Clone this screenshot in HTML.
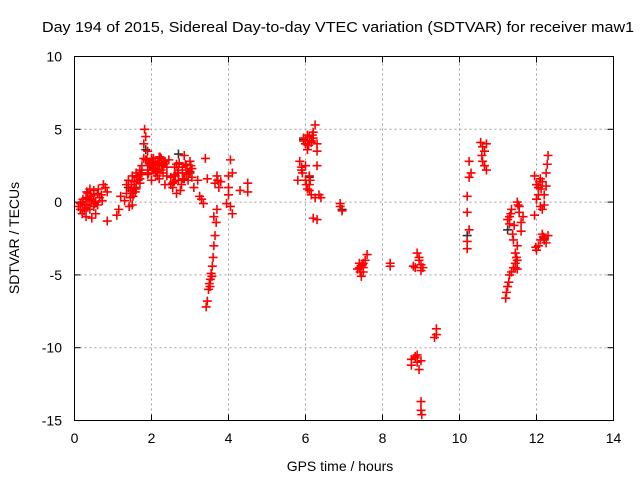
<!DOCTYPE html>
<html><head><meta charset="utf-8"><style>
body{margin:0;background:#fff;}
svg{display:block;font-family:"Liberation Sans",sans-serif;}
</style></head><body>
<svg id="chart" width="640" height="480" xmlns="http://www.w3.org/2000/svg">
<text x="338" y="32" font-size="15" text-anchor="middle" textLength="592" lengthAdjust="spacingAndGlyphs">Day 194 of 2015, Sidereal Day-to-day VTEC variation (SDTVAR) for receiver maw1</text>
<text x="340" y="471" font-size="14" text-anchor="middle">GPS time / hours</text>
<text transform="translate(19,238) rotate(-90)" font-size="14" text-anchor="middle">SDTVAR / TECUs</text>
<g id="grid"></g><g id="ticks"></g><g id="marks"></g>
<rect x="74.5" y="56.5" width="539" height="364" fill="none" stroke="#000" stroke-width="1"/>
</svg>
<script>
const xTicks=[0,2,4,6,8,10,12,14];
const yTicks=[10,5,0,-5,-10,-15];
const redX=[0.1,0.15,0.2,0.25,0.3,0.3,0.35,0.4,0.4,0.45,0.5,0.5,0.55,0.6,0.65,0.7,0.75,0.8,0.85,0.85,0.2,0.35,0.45,0.6,0.25,0.4,0.55,0.3,0.15,0.5,
1.1,1.15,1.2,1.3,1.35,1.4,1.45,1.5,1.5,1.55,1.6,1.65,1.7,1.75,1.8,1.8,1.82,1.85,1.9,1.95,2.0,2.05,2.1,2.15,2.2,2.25,2.3,2.35,2.4,2.5,2.55,2.6,2.7,2.75,2.8,2.85,2.9,2.95,3.0,3.05,3.1,3.2,3.25,3.3,3.35,3.4,3.45,
1.4,1.45,1.55,1.6,1.65,1.7,1.75,1.85,1.9,1.95,2.0,2.05,2.1,2.15,2.2,2.25,2.3,2.4,2.45,2.5,2.6,2.65,2.7,2.8,2.9,3.0,2.0,2.1,2.2,1.9,1.5,1.6,1.7,2.35,2.55,2.65,2.85,2.95,3.05,1.35,1.42,1.52,
1.98,2.08,2.18,2.28,1.88,2.12,2.22,2.02,1.92,2.32,2.62,2.72,2.82,2.92,3.02,2.58,2.68,2.78,2.88,1.62,1.72,1.48,1.58,0.42,0.52,0.32,0.22,0.62,0.72,
3.7,3.68,3.65,3.62,3.6,3.58,3.55,3.53,3.5,3.48,3.45,3.42,3.65,3.7,3.75,3.8,3.62,3.72,3.57,3.52,
4.0,4.05,4.0,4.05,4.1,4.1,4.0,3.95,4.3,4.5,4.5,
5.8,5.85,5.9,5.95,6.0,6.05,6.1,6.15,6.2,6.25,6.3,6.3,6.3,6.0,6.05,6.1,6.15,6.2,6.25,6.35,6.4,6.3,6.0,6.1,5.95,6.05,6.15,6.2,5.9,6.1,6.08,6.18,6.02,5.92,6.12,
6.9,6.95,6.9,
7.4,7.45,7.5,7.5,7.55,7.6,7.45,7.35,7.4,7.5,7.42,7.48,
8.2,8.2,8.85,8.9,8.95,9.0,9.05,8.95,9.0,8.8,
9.4,9.4,9.35,8.75,8.75,8.85,8.9,8.9,8.95,9.0,8.85,9.0,9.0,9.02,
10.25,10.25,10.2,10.2,10.25,10.2,10.2,10.3,10.55,10.6,10.65,10.7,10.65,10.6,10.7,10.58,
11.2,11.22,11.25,11.28,11.3,11.35,11.4,11.45,11.5,11.5,11.45,11.4,11.3,11.35,11.5,11.55,11.6,11.65,11.5,11.45,11.25,11.3,11.55,11.6,11.38,11.42,11.48,11.52,11.33,
12.0,12.05,12.1,12.15,12.2,12.25,12.3,11.95,12.0,12.05,12.1,12.15,12.2,12.25,12.3,12.0,11.95,12.05,12.1,12.2,12.25,12.28,12.15,11.98,12.08,12.12,12.18];
const redY=[-0.3,-0.5,-0.8,-0.2,0.3,-1.0,0.6,0.9,-0.5,0.2,-0.3,0.5,-0.8,-0.2,0.3,0.5,1.2,1.0,0.7,-1.3,0,-0.2,-1.1,0.6,-0.6,0.1,0.0,-0.4,-0.1,0.8,
-0.9,-0.5,0.4,0.1,1.2,1.5,0.8,1.8,-0.2,1.0,2.0,1.5,2.2,2.5,3.0,4.0,5.0,4.5,3.5,2.5,3.0,2.2,2.8,1.8,2.5,3.0,2.0,1.2,2.4,1.7,1.0,2.4,1.5,0.8,2.0,3.2,2.5,1.5,2.8,1.7,1.0,1.5,0.4,0.2,-0.1,3.0,1.6,
1.2,0.3,1.4,1.0,1.8,1.3,2.0,2.9,2.2,2.7,2.4,3.0,2.0,2.6,1.6,2.2,2.7,1.8,2.9,1.2,1.9,2.6,2.2,2.4,1.9,2.1,1.5,2.3,3.1,1.9,0.6,0.9,1.6,2.8,1.3,0.6,1.6,2.0,2.3,0.6,-0.3,0.4,
2.6,2.3,2.7,2.5,2.9,2.1,3.1,2.8,2.0,2.6,1.8,2.7,1.6,2.2,2.5,1.4,2.0,1.2,2.6,1.7,1.9,1.2,0.7,0.4,-0.1,0.7,0.2,0.9,0.1,
-0.5,-1.4,-2.3,-3.0,-3.8,-4.4,-4.9,-5.3,-5.6,-6.0,-6.8,-7.2,1.3,1.8,1.0,1.4,-1.0,1.5,-5.1,-5.8,
1.8,2.9,0.5,-0.3,-0.8,2.0,1.0,-0.1,0.8,1.3,0.7,
1.5,2.8,2.2,4.4,4.0,3.6,4.5,4.2,4.8,5.3,4.0,3.5,2.5,1.5,0.9,1.2,0.5,-1.1,0.3,0.5,0.3,-1.2,2.5,1.8,4.2,4.6,4.1,4.4,2.4,0.8,3.9,4.6,1.2,2.0,1.5,
-0.3,-0.6,-0.1,
-4.5,-5.1,-4.8,-4.2,-4.0,-3.6,-4.4,-4.6,-4.2,-4.5,-4.8,-4.3,
-4.2,-4.4,-4.5,-3.5,-4.0,-4.3,-4.5,-3.8,-4.7,-4.4,
-9.1,-8.7,-9.3,-10.8,-11.2,-10.7,-10.5,-11.0,-11.5,-10.9,-10.6,-13.7,-14.3,-14.6,
2.8,1.7,0.4,-0.7,-1.9,-2.7,-3.2,2.0,4.1,3.8,3.5,4.0,2.5,2.8,2.2,3.2,
-6.6,-6.2,-5.8,-5.5,-5.0,-4.8,-4.5,-4.2,-4.6,-4.0,-3.5,-2.6,-1.0,-0.5,0.0,-0.3,-2.0,-1.0,-3.0,-4.5,-1.2,-1.5,-0.7,-1.4,-2.2,-1.6,-3.8,-0.2,-0.8,
-3.3,-3.0,-2.6,-2.2,-2.5,-2.8,-2.3,1.8,1.2,0.5,-0.3,-0.5,0.5,2.0,3.2,0.2,-0.9,1.0,1.6,-0.2,1.1,2.6,1.4,-3.1,1.4,0.9,-2.4];
const darkX=[0.3,1.4,1.85,2.7,3.0,5.95,6.1,6.95,10.2,11.25,12.0,12.2];
const darkY=[-0.2,1.0,3.6,3.3,2.0,4.3,1.7,-0.5,-2.3,-1.9,1.2,-2.6];
const X0=74.5,X1=613.5,Y0=420.5,Y1=56.5;
const sx=v=>X0+(v-0)/(14-0)*(X1-X0);
const sy=v=>Y0-(v+15)/(25)*(Y0-Y1);
const NS="http://www.w3.org/2000/svg";
function mk(t,a,p){const e=document.createElementNS(NS,t);for(const k in a)e.setAttribute(k,a[k]);p.appendChild(e);return e;}
const grid=document.getElementById('grid'),ticks=document.getElementById('ticks'),marks=document.getElementById('marks');
xTicks.forEach(t=>{const x=sx(t);
 if(t>0&&t<14){const g=mk('line',{x1:x,x2:x,y1:Y0,y2:Y1,stroke:'#a0a0a0','stroke-dasharray':'2,3'},grid);
 
 }
 mk('line',{x1:x,x2:x,y1:Y0,y2:Y0-6,stroke:'#000'},ticks);mk('line',{x1:x,x2:x,y1:Y1,y2:Y1+6,stroke:'#000'},ticks);
 const l=mk('text',{x:x,y:443,'font-size':14,'text-anchor':'middle'},ticks);l.textContent=t;
 
 });
yTicks.forEach(t=>{const y=sy(t);
 if(t>-15&&t<10){const g=mk('line',{x1:X0,x2:X1,y1:y,y2:y,stroke:'#a0a0a0','stroke-dasharray':'2,3'},grid);
 
 }
 mk('line',{x1:X0,x2:X0+6,y1:y,y2:y,stroke:'#000'},ticks);mk('line',{x1:X1,x2:X1-6,y1:y,y2:y,stroke:'#000'},ticks);
 const l=mk('text',{x:62,y:y+5,'font-size':14,'text-anchor':'end'},ticks);l.textContent=t;
 
 });
function plus(x,y,c,name){const p=mk('path',{d:`M${x-4.5},${y}h9M${x},${y-4.5}v9`,stroke:c,'stroke-width':1.6,fill:'none'},marks);
 
 }
darkX.forEach((v,i)=>plus(sx(v),sy(darkY[i]),'#333','reference-point'));
redX.forEach((v,i)=>plus(sx(v),sy(redY[i]),'#ff0000','sdtvar-point'));
</script>
</body></html>
